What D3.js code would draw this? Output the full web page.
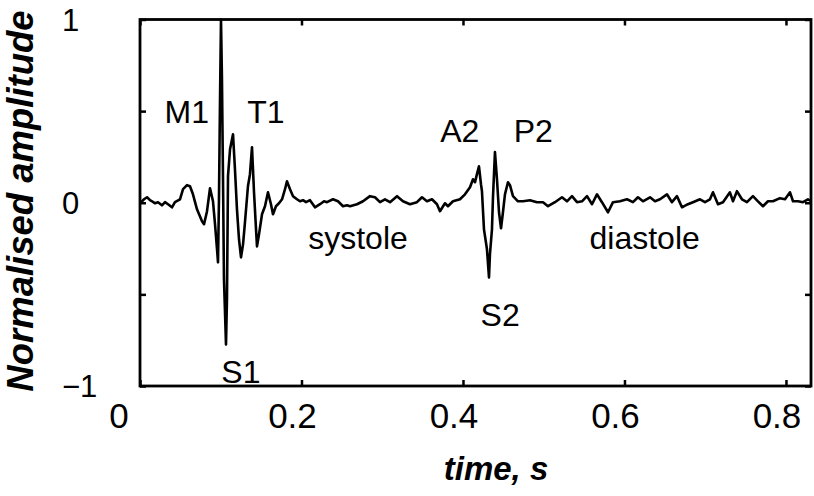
<!DOCTYPE html>
<html>
<head>
<meta charset="utf-8">
<script src="https://cdn.jsdelivr.net/npm/d3@7"></script>
<style>
  body { margin: 0; background: #fff; }
  svg text { font-family: "Liberation Sans", Arial, sans-serif; fill: #000; }
</style>
</head>
<body>
<div id="chart"></div>
<script>
// heart sound trace
const time = [
  0, 0.0050, 0.0087, 0.0124, 0.0149, 0.0186, 0.0223, 0.0272, 0.0310, 0.0347,
  0.0396, 0.0433, 0.0495, 0.0533, 0.0582, 0.0619, 0.0656, 0.0706, 0.0768, 0.0793,
  0.0830, 0.0867, 0.0904, 0.0929, 0.0954, 0.0966, 0.0978, 0.0991, 0.1003, 0.1015,
  0.1028, 0.1040, 0.1065, 0.1077, 0.1090, 0.1115, 0.1152, 0.1176, 0.1201, 0.1226,
  0.1251, 0.1276, 0.1300, 0.1337, 0.1362, 0.1387, 0.1412, 0.1437, 0.1449, 0.1474,
  0.1511, 0.1548, 0.1585, 0.1622, 0.1647, 0.1684, 0.1721, 0.1759, 0.1796, 0.1820,
  0.1858, 0.1895, 0.1944, 0.1981, 0.2019, 0.2056, 0.2105, 0.2167, 0.2229, 0.2279,
  0.2316, 0.2390, 0.2452, 0.2514, 0.2563, 0.2601, 0.2687, 0.2762, 0.2848, 0.2910,
  0.2972, 0.3034, 0.3096, 0.3183, 0.3257, 0.3344, 0.3430, 0.3492, 0.3554, 0.3616,
  0.3678, 0.3715, 0.3777, 0.3814, 0.3876, 0.3963, 0.4025, 0.4087, 0.4124, 0.4149,
  0.4173, 0.4198, 0.4223, 0.4235, 0.4260, 0.4297, 0.4322, 0.4334, 0.4359, 0.4372,
  0.4396, 0.4421, 0.4446, 0.4471, 0.4495, 0.4520, 0.4557, 0.4582, 0.4619, 0.4681,
  0.4743, 0.4830, 0.4916, 0.4991, 0.5053, 0.5139, 0.5226, 0.5288, 0.5350, 0.5412,
  0.5474, 0.5536, 0.5598, 0.5659, 0.5721, 0.5796, 0.5858, 0.5944, 0.6031, 0.6105,
  0.6167, 0.6229, 0.6316, 0.6378, 0.6440, 0.6526, 0.6588, 0.6650, 0.6712, 0.6786,
  0.6848, 0.6935, 0.6997, 0.7059, 0.7096, 0.7158, 0.7220, 0.7306, 0.7344, 0.7393,
  0.7455, 0.7517, 0.7591, 0.7653, 0.7715, 0.7777, 0.7839, 0.7926, 0.7988, 0.8050,
  0.8087, 0.8149, 0.8211, 0.8272, 0.8310
];
const amplitude = [
  -0.003, 0.019, 0.030, 0.014, 0.008, -0.003, 0.003, -0.014, 0.003, -0.008,
  -0.025, 0.003, 0.019, 0.074, 0.096, 0.090, 0.046, -0.036, -0.101, -0.117,
  -0.046, 0.079, 0.008, -0.117, -0.254, -0.325, 0.019, 0.566, 1.0, 0.675,
  0.128, -0.418, -0.773, -0.527, 0.145, 0.292, 0.374, 0.183, -0.036, -0.199,
  -0.298, -0.227, -0.107, 0.090, 0.156, 0.303, 0.057, -0.145, -0.238, -0.172,
  -0.063, -0.019, 0.057, -0.008, -0.063, -0.019, -0.003, 0.019, 0.074, 0.117,
  0.074, 0.036, 0.019, 0.008, 0.014, 0.003, 0.014, -0.025, -0.008, 0.008,
  0.003, 0.019, 0.008, -0.019, -0.014, -0.019, -0.008, 0.008, 0.036, 0.030,
  0.003, 0.019, 0.003, 0.036, 0.008, -0.008, 0.003, 0.030, 0.008, 0.019,
  -0.008, -0.046, -0.003, -0.019, 0.008, 0.019, 0.046, 0.085, 0.128, 0.112,
  0.156, 0.199, 0.101, 0.063, -0.145, -0.254, -0.407, -0.281, -0.145, 0.036,
  0.276, 0.128, -0.052, -0.139, -0.052, 0.046, 0.112, 0.096, 0.036, 0.008,
  0.008, 0.014, 0.003, 0.003, -0.019, 0.003, 0.030, 0.008, 0.036, 0.003,
  0.008, 0.036, -0.008, 0.046, 0.003, -0.052, 0.003, 0.008, 0.019, 0.003,
  0.030, 0.008, 0.030, 0.008, 0.019, 0.046, 0.003, 0.036, -0.025, -0.008,
  0.003, 0.019, 0.003, 0.019, 0.057, -0.008, 0.003, 0.057, 0.008, 0.063,
  0.019, 0.003, 0.036, 0.008, -0.019, 0.008, 0.008, 0.025, 0.019, 0.057,
  0.008, 0.008, 0.003, 0.019, 0.008
];

const xTicks = [0, 0.2, 0.4, 0.6, 0.8];
const yTicks = [-1, -0.5, 0, 0.5, 1];
const yLabelled = [-1, 0, 1];

// annotation labels: text, time, amplitude (baseline)
const labelText = ["M1", "T1", "S1", "systole", "A2", "P2", "S2", "diastole"];
const labelTime = [0.058, 0.156, 0.125, 0.270, 0.396, 0.487, 0.446, 0.625];
const labelAmp = [0.434, 0.434, -0.981, -0.254, 0.331, 0.331, -0.675, -0.254];

const width = 814;
const height = 496;
const margin = { top: 19.5, right: 3, bottom: 110, left: 140 };

const x = d3.scaleLinear()
    .domain([0, 0.831])
    .range([margin.left, width - margin.right]);

const y = d3.scaleLinear()
    .domain([-1, 1])
    .range([height - margin.bottom, margin.top]);

const svg = d3.select("#chart")
    .append("svg")
    .attr("width", width)
    .attr("height", height);

const data = time.map((t, i) => ({ t: t, a: amplitude[i] }));

// the trace
svg.append("path")
    .datum(data)
    .attr("fill", "none")
    .attr("stroke", "#000")
    .attr("stroke-width", 2.6)
    .attr("stroke-linejoin", "round")
    .attr("d", d3.line().x(d => x(d.t)).y(d => y(d.a)));

// axes, MATLAB style: inward ticks on all four sides
const tick = 6;
const x0 = x.range()[0], x1 = x.range()[1];
const y0 = y.range()[0], y1 = y.range()[1];

svg.append("g")
    .attr("transform", `translate(0,${y0})`)
    .call(d3.axisBottom(x).tickValues(xTicks).tickSizeInner(-tick).tickSizeOuter(0).tickFormat(""));
svg.append("g")
    .attr("transform", `translate(0,${y1})`)
    .call(d3.axisTop(x).tickValues(xTicks).tickSizeInner(-tick).tickSizeOuter(0).tickFormat(""));
svg.append("g")
    .attr("transform", `translate(${x0},0)`)
    .call(d3.axisLeft(y).tickValues(yTicks).tickSizeInner(-tick).tickSizeOuter(0).tickFormat(""));
svg.append("g")
    .attr("transform", `translate(${x1},0)`)
    .call(d3.axisRight(y).tickValues(yTicks).tickSizeInner(-tick).tickSizeOuter(0).tickFormat(""));

svg.selectAll(".domain").remove();
svg.selectAll(".tick line").attr("stroke", "#000").attr("stroke-width", 2.5);

svg.append("rect")
    .attr("x", x0)
    .attr("y", y1)
    .attr("width", x1 - x0)
    .attr("height", y0 - y1)
    .attr("fill", "none")
    .attr("stroke", "#000")
    .attr("stroke-width", 2.8);

// tick labels
svg.selectAll(".xlab")
    .data(xTicks)
    .enter()
    .append("text")
    .attr("class", "xlab")
    .attr("x", d => x(d) + (d === 0 ? -21 : -9))
    .attr("y", 428)
    .attr("text-anchor", "middle")
    .style("font-size", "35px")
    .text(d => d);

svg.selectAll(".ylab")
    .data(yLabelled)
    .enter()
    .append("text")
    .attr("class", "ylab")
    .attr("x", 62)
    .attr("y", d => y(d) + 11)
    .attr("text-anchor", "start")
    .style("font-size", "31px")
    .text(d => d < 0 ? "\u2212" + Math.abs(d) : d);

// axis titles
svg.append("text")
    .attr("x", 496)
    .attr("y", 480)
    .attr("text-anchor", "middle")
    .style("font-size", "33px")
    .style("font-weight", "bold")
    .style("font-style", "italic")
    .text("time, s");

svg.append("text")
    .attr("transform", "translate(33,201) rotate(-90)")
    .attr("text-anchor", "middle")
    .style("font-size", "36.5px")
    .style("font-weight", "bold")
    .style("font-style", "italic")
    .text("Normalised amplitude");

// annotations
svg.selectAll(".note")
    .data(labelText)
    .enter()
    .append("text")
    .attr("class", "note")
    .attr("x", (d, i) => x(labelTime[i]))
    .attr("y", (d, i) => y(labelAmp[i]))
    .attr("text-anchor", "middle")
    .style("font-size", "32px")
    .text(d => d);
</script>
</body>
</html>
